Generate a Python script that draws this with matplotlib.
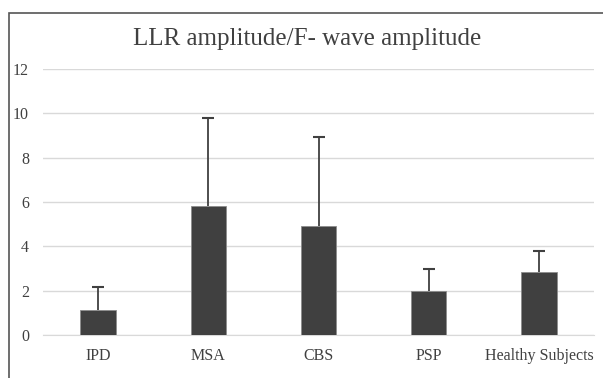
import matplotlib

matplotlib.use("Agg")
import matplotlib.pyplot as plt
from matplotlib.patches import Rectangle

groups = ["IPD", "MSA", "CBS", "PSP", "Healthy Subjects"]
means = [1.15, 5.8, 4.9, 2.0, 2.85]
sd_upper = [1.0, 4.0, 4.05, 1.0, 0.93]
yticks = [0, 2, 4, 6, 8, 10, 12]

plt.rcParams["font.family"] = ["Liberation Serif", "DejaVu Serif"]

W, H = 603, 378
fig = plt.figure(figsize=(W / 100, H / 100), dpi=100)
ax = fig.add_axes([43 / W, (H - 335) / H, (594 - 43) / W, (335 - 69) / H])

x = list(range(len(groups)))
tops = [m + s for m, s in zip(means, sd_upper)]
ax.bar(x, means, width=0.32, color="#404040", edgecolor="#8c8c8c", linewidth=0.6, zorder=3)
# upper-only error bars
ax.vlines(x, means, tops, color="#404040", linewidth=1.3, zorder=4)
ax.plot(x, tops, linestyle="none", marker="_", markersize=9, markeredgewidth=1.5,
        color="#404040", zorder=4)

ax.set_xlim(-0.5, len(groups) - 0.5)
ax.set_ylim(0, 12)
ax.set_yticks(yticks)
ax.set_xticks(x)
ax.set_xticklabels(groups)
ax.grid(True, axis="y", color="#d9d9d9", linewidth=1.0, zorder=0)
for s in ax.spines.values():
    s.set_visible(False)
ax.spines["bottom"].set_visible(True)
ax.spines["bottom"].set_color("#d9d9d9")
ax.tick_params(axis="both", length=0, labelsize=11.5, colors="#404040")
ax.tick_params(axis="y", pad=10)
ax.tick_params(axis="x", pad=9)

fig.text(307 / W, 1 - 39 / H, "LLR amplitude/F- wave amplitude", ha="center", va="center",
         fontsize=18, color="#404040")

# outer chart frame (cut off at right and bottom in the original)
fig.patches.append(Rectangle((8.5 / W, -0.1), 1.2, 1 - 13 / H + 0.1, transform=fig.transFigure,
                             fill=False, edgecolor="#555555", linewidth=1.2))

fig.savefig("out.png", dpi=100)
